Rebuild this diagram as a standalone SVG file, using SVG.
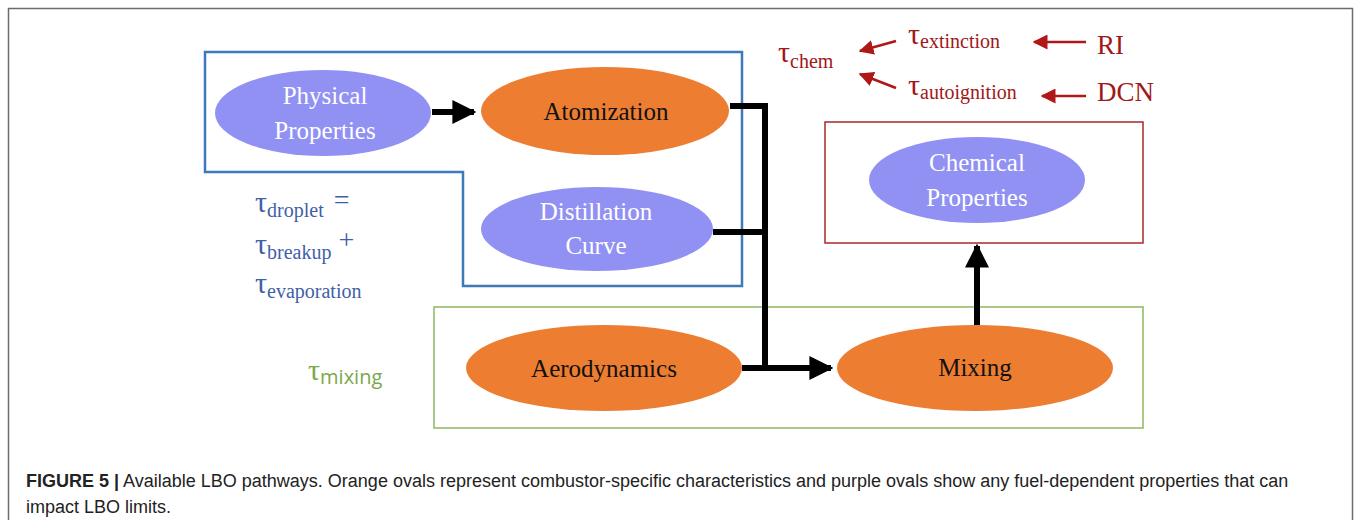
<svg xmlns="http://www.w3.org/2000/svg" width="1354" height="520" viewBox="0 0 1354 520">
<defs>
<style>
.frame{fill:none;stroke:#6b6b6b;stroke-width:1.5}
.purple{fill:#9191f4}
.orange{fill:#ed7d31}
.wt{font-family:"Liberation Serif",serif;font-size:25px;fill:#ffffff;text-anchor:middle}
.bt{font-family:"Liberation Serif",serif;font-size:25px;fill:#111111;text-anchor:middle}
.conn{fill:none;stroke:#000;stroke-width:6}
.rconn{fill:none;stroke:#b01818;stroke-width:2.5}
.tau-b{font-family:"Liberation Serif",serif;fill:#3f5fa8}
.tau-r{font-family:"Liberation Serif",serif;fill:#a01818}
.tau-g{font-family:"Liberation Serif",serif;fill:#7aa84a}
.cap{font-family:"Liberation Sans",Arial,sans-serif;font-size:18px;fill:#222}
</style>
<marker id="ah" viewBox="0 0 10 10" refX="9" refY="5" markerWidth="4" markerHeight="4" orient="auto" markerUnits="strokeWidth">
<path d="M0,0 L10,5 L0,10 Z" fill="#000"/>
</marker>
<marker id="rh" viewBox="0 0 10 10" refX="9" refY="5" markerWidth="6" markerHeight="6" orient="auto" markerUnits="strokeWidth">
<path d="M0,0 L10,5 L0,10 Z" fill="#b01818"/>
</marker>
</defs>
<rect width="1354" height="520" fill="#fff"/>
<path class="frame" d="M8.5,520 V8.5 H1352.5 V520"/>

<g id="groups">
<path d="M205,52 H742 V286 H463 V172 H205 Z" fill="none" stroke="#3d7ab8" stroke-width="2.5"/>
<rect x="434" y="307" width="709" height="121" fill="none" stroke="#8db862" stroke-width="1.5"/>
<rect x="825" y="122" width="318" height="121" fill="none" stroke="#a82828" stroke-width="1.5"/>
</g>

<g id="connectors">
<path class="conn" d="M432,112 H474" marker-end="url(#ah)"/>
<path class="conn" d="M730,106 H765 V368"/>
<path class="conn" d="M713,232 H765"/>
<path class="conn" d="M742,368 H831" marker-end="url(#ah)"/>
<path class="conn" d="M977,325 V246" marker-end="url(#ah)"/>
<path class="rconn" d="M896,41 L860,51" marker-end="url(#rh)"/>
<path class="rconn" d="M896,88 L860,74" marker-end="url(#rh)"/>
<path class="rconn" d="M1086,42 L1034,42" marker-end="url(#rh)"/>
<path class="rconn" d="M1086,96 L1042,96" marker-end="url(#rh)"/>
</g>

<g id="physical">
<ellipse class="purple" cx="323" cy="113" rx="108" ry="43"/>
<text class="wt" x="325" y="104">Physical</text>
<text class="wt" x="325" y="139">Properties</text>
</g>
<g id="atomization">
<ellipse class="orange" cx="605" cy="111" rx="124" ry="44"/>
<text class="bt" x="606" y="120">Atomization</text>
</g>
<g id="distillation">
<ellipse class="purple" cx="597" cy="229" rx="116" ry="42"/>
<text class="wt" x="596" y="220">Distillation</text>
<text class="wt" x="596" y="254">Curve</text>
</g>
<g id="aerodynamics">
<ellipse class="orange" cx="604" cy="368" rx="138" ry="43"/>
<text class="bt" x="604" y="377">Aerodynamics</text>
</g>
<g id="mixing">
<ellipse class="orange" cx="975" cy="368" rx="138" ry="43"/>
<text class="bt" x="975" y="376">Mixing</text>
</g>
<g id="chemical">
<ellipse class="purple" cx="977" cy="180" rx="108" ry="43"/>
<text class="wt" x="977" y="171">Chemical</text>
<text class="wt" x="977" y="206">Properties</text>
</g>

<g id="labels">
<text class="tau-b" x="255" y="212" font-size="30">τ<tspan font-size="20" dy="5">droplet</tspan><tspan font-size="28" dx="10" dy="-8">=</tspan></text>
<text class="tau-b" x="255" y="254" font-size="30">τ<tspan font-size="20" dy="5">breakup</tspan><tspan font-size="28" dx="7" dy="-10">+</tspan></text>
<text class="tau-b" x="255" y="293" font-size="30">τ<tspan font-size="20" dy="5">evaporation</tspan></text>
<text class="tau-g" x="308" y="380" font-size="30">τ<tspan font-size="20" dy="4" font-family="'Open Sans',sans-serif">mixing</tspan></text>
<text class="tau-r" x="778" y="62" font-size="30">τ<tspan font-size="20" dy="6">chem</tspan></text>
<text class="tau-r" x="908" y="44" font-size="30">τ<tspan font-size="20" dy="4">extinction</tspan></text>
<text class="tau-r" x="908" y="95" font-size="30">τ<tspan font-size="20" dy="4">autoignition</tspan></text>
<text class="tau-r" x="1097" y="54" font-size="27">RI</text>
<text class="tau-r" x="1097" y="101" font-size="27">DCN</text>
</g>

<g id="caption">
<text class="cap" x="26" y="487"><tspan font-weight="bold">FIGURE 5 |</tspan> Available LBO pathways. Orange ovals represent combustor-specific characteristics and purple ovals show any fuel-dependent properties that can</text>
<text class="cap" x="26" y="513">impact LBO limits.</text>
</g>
</svg>
